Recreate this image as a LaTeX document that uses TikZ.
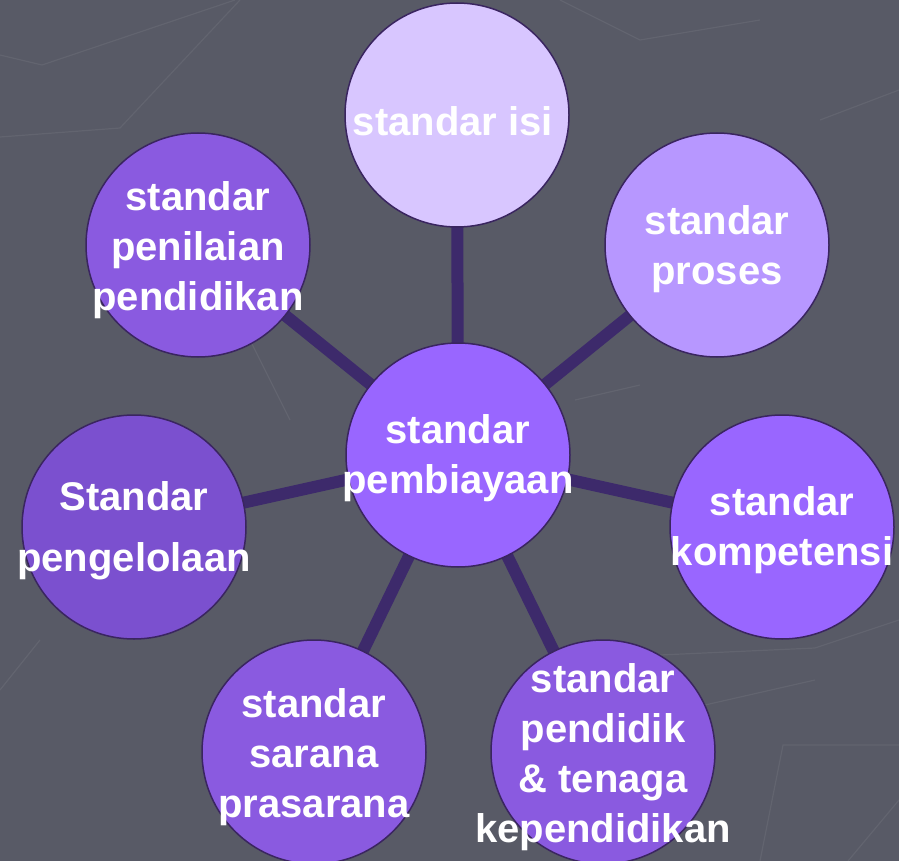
\documentclass[tikz,border=0pt]{standalone}
\usepackage{fontspec}
\setmainfont{Liberation Sans}
\pgfdeclarelayer{back}
\pgfdeclarelayer{links}
\pgfsetlayers{back,links,main}
\begin{document}
\begin{tikzpicture}[x=1pt,y=-1pt,
  bub/.style={circle,draw=bordc,line width=1.5pt,minimum size=224pt,inner sep=0pt},
  txt/.style={text=white,font=\fontsize{40}{50}\selectfont\bfseries,align=center,inner sep=0pt},
  link/.style={draw=linkc,line width=12pt},
  faint/.style={draw=faintc,line width=1.2pt}]
\definecolor{bgc}{HTML}{585A66}
\definecolor{faintc}{HTML}{62646F}
\definecolor{bordc}{HTML}{3A2560}
\definecolor{linkc}{HTML}{3D2A6B}
\definecolor{cisi}{HTML}{D8C6FF}
\definecolor{cproses}{HTML}{B797FF}
\definecolor{cmid}{HTML}{8A5AE0}
\definecolor{cdark}{HTML}{7B50CF}
\definecolor{cbright}{HTML}{9966FF}
\useasboundingbox (0,0) rectangle (899,861);
\begin{pgfonlayer}{back}
\fill[bgc] (0,0) rectangle (899,861);
\draw[faint] (0,55) -- (42,65) -- (235,0);
\draw[faint] (0,137) -- (120,128) -- (240,0);
\draw[faint] (560,0) -- (640,40) -- (760,20);
\draw[faint] (820,120) -- (899,90);
\draw[faint] (660,655) -- (815,648) -- (899,620);
\draw[faint] (705,705) -- (815,680);
\draw[faint] (760,861) -- (783,745) -- (899,745);
\draw[faint] (848,861) -- (899,800);
\draw[faint] (0,690) -- (40,640);
\draw[faint] (250,340) -- (290,420);
\draw[faint] (575,400) -- (640,385);
\end{pgfonlayer}
% circles
\node[bub,fill=cbright] (c) at (458,455) {};
\node[bub,fill=cisi] (isi) at (457,115) {};
\node[bub,fill=cproses] (pro) at (717,245) {};
\node[bub,fill=cmid] (pen) at (198,245) {};
\node[bub,fill=cdark] (pgl) at (134,527) {};
\node[bub,fill=cbright] (kom) at (782,527) {};
\node[bub,fill=cmid] (sar) at (314,752) {};
\node[bub,fill=cmid] (pdk) at (603,752) {};
% labels
\node[txt] (tc) at ([yshift=-3pt]c.center) {standar\\pembiayaan};
\node[txt] (tisi) at ([xshift=-4pt,yshift=-6pt]isi.center) {standar isi};
\node[txt] (tpro) at ([yshift=-4pt]pro.center) {standar\\proses};
\node[txt] (tpen) at ([yshift=-5pt]pen.center) {standar\\penilaian\\pendidikan};
\node[txt,font=\fontsize{40}{61}\selectfont\bfseries] (tpgl) at ([yshift=-4pt]pgl.center) {Standar\\pengelolaan};
\node[txt] (tkom) at ([yshift=-3pt]kom.center) {standar\\kompetensi};
\node[txt] (tsar) at ([yshift=-5pt]sar.center) {standar\\sarana\\prasarana};
\node[txt] (tpdk) at ([yshift=-5pt]pdk.center) {standar\\pendidik\\\&~tenaga\\kependidikan};
% connectors
\begin{pgfonlayer}{links}
\draw[link] (c.center) -- (isi.center);
\draw[link] (c.center) -- (pro.center);
\draw[link] (c.center) -- (pen.center);
\draw[link] (c.center) -- (pgl.center);
\draw[link] (c.center) -- (kom.center);
\draw[link] (c.center) -- (sar.center);
\draw[link] (c.center) -- (pdk.center);
\end{pgfonlayer}
\end{tikzpicture}
\end{document}
